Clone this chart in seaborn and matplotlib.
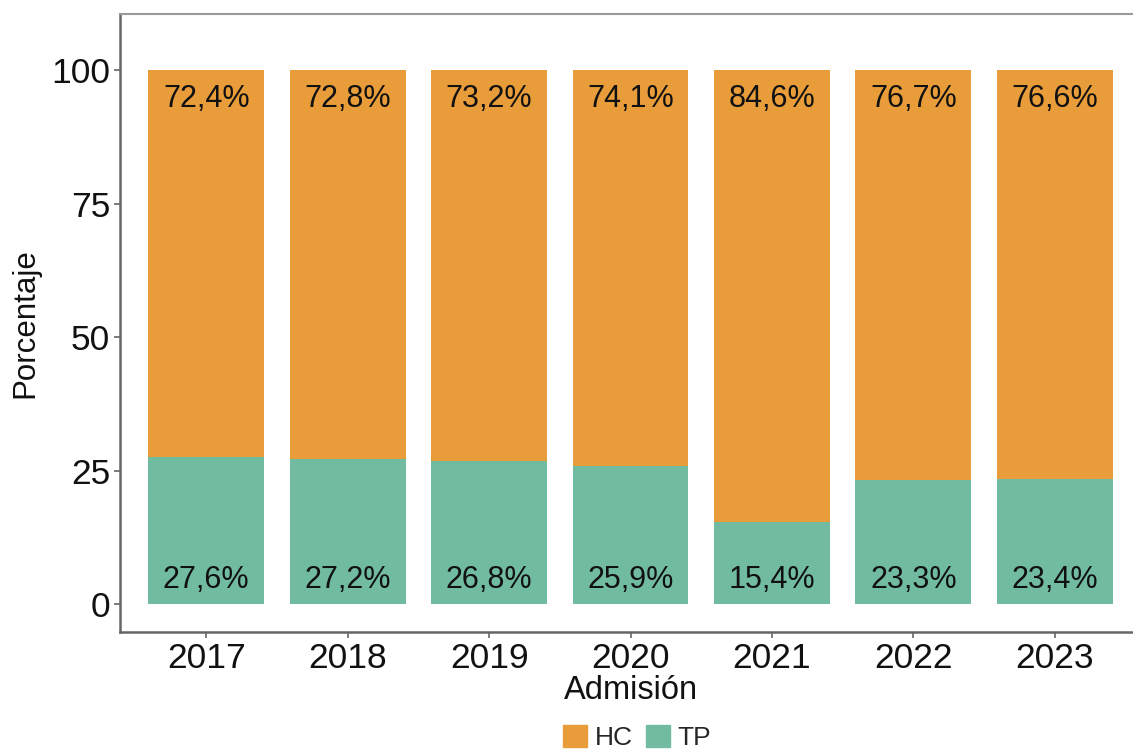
import numpy as np
import pandas as pd
import matplotlib.pyplot as plt
import matplotlib.patches as mpatches
import seaborn as sns

years = ["2017", "2018", "2019", "2020", "2021", "2022", "2023"]
hc = [72.4, 72.8, 73.2, 74.1, 84.6, 76.7, 76.6]
tp = [27.6, 27.2, 26.8, 25.9, 15.4, 23.3, 23.4]

hc_color = "#E99C3A"
tp_color = "#71BBA1"

sns.set_style("white")
plt.rcParams["font.family"] = ["Liberation Sans", "DejaVu Sans"]

df = pd.DataFrame({"year": years, "HC": hc, "TP": tp})
df["total"] = df["HC"] + df["TP"]

fig = plt.figure(figsize=(11.33, 7.52), dpi=100)
ax = fig.add_axes([120 / 1133, 1 - 632 / 752, 1021 / 1133, 618 / 752])

# stacked bars: total (HC on top) then TP at the bottom
sns.barplot(data=df, x="year", y="total", color=hc_color, width=0.82,
            saturation=1, linewidth=0, ax=ax)
sns.barplot(data=df, x="year", y="TP", color=tp_color, width=0.82,
            saturation=1, linewidth=0, ax=ax)

for i, (h, t) in enumerate(zip(hc, tp)):
    ax.text(i, 94.5, f"{h:.1f}%".replace(".", ","), ha="center", va="center",
            fontsize=22, color="#111111")
    ax.text(i, 4.6, f"{t:.1f}%".replace(".", ","), ha="center", va="center",
            fontsize=22, color="#111111")

ax.set_xlim(-0.61, 6.61)
ax.set_ylim(-5.2, 110.5)
ax.set_yticks([0, 25, 50, 75, 100])
ax.tick_params(axis="both", bottom=True, left=True, labelsize=25.5,
               labelcolor="#111111", color="#666666", length=4,
               width=1.2, direction="out", pad=3)
ax.set_xlabel("Admisión", fontsize=23.5, color="#111111", labelpad=0)
ax.set_ylabel("Porcentaje", fontsize=22.5, color="#111111", labelpad=8)

for side in ["left", "bottom"]:
    ax.spines[side].set_color("#666666")
    ax.spines[side].set_linewidth(1.8)
ax.spines["top"].set_color("#999999")
ax.spines["top"].set_linewidth(1.5)
ax.spines["right"].set_visible(False)

handles = [mpatches.Patch(color=hc_color), mpatches.Patch(color=tp_color)]
fig.legend(handles, ["HC", "TP"], ncol=2, loc="lower center",
           bbox_to_anchor=(637 / 1133, -11 / 752), frameon=False,
           fontsize=19, handlelength=0.9, handleheight=0.9,
           handletextpad=0.3, columnspacing=0.5, borderpad=0)

fig.savefig("out.png", dpi=100)
